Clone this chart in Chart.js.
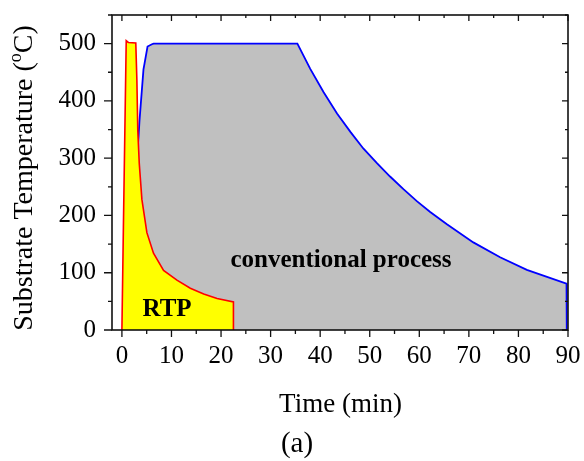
<!DOCTYPE html>
<html>
<head>
<meta charset="utf-8">
<script src="https://cdn.jsdelivr.net/npm/chart.js@4/dist/chart.umd.min.js"></script>
<style>
  html, body { margin: 0; padding: 0; background: #fff; }
  #wrap { width: 584px; height: 461px; }
</style>
</head>
<body>
<div id="wrap"><canvas id="tempChart" width="584" height="461"></canvas></div>
<script>
// values
const rtpTime = [0, 0.3, 0.87, 1.3, 2.8, 3.02, 3.2, 3.5, 4.03, 5.04, 6.37, 8.4, 11.1, 13.8, 16.5, 19.2, 22.5, 22.5];
const rtpTemp = [0, 180, 505, 502, 501, 436, 349, 291, 228, 170, 134, 104, 87, 73, 63, 55, 49, 0];

const convTime = [0.4, 3.35, 3.55, 4.35, 4.56, 5.17, 6.05, 6.4, 35.4, 38.0, 40.7, 43.4, 46.1, 48.7, 51.5, 54.1, 56.8, 59.5, 62.2, 65.5, 70.9, 76.3, 81.7, 89.7, 89.75];
const convTemp = [0, 337, 366, 455, 465, 495, 499, 500, 500, 456, 415, 378, 346, 317, 291, 268, 246, 225, 206, 185, 153, 127, 105, 81, 0];

const xTicks = [0, 10, 20, 30, 40, 50, 60, 70, 80, 90];
const yTicks = [0, 100, 200, 300, 400, 500];
const xMinor = [5, 15, 25, 35, 45, 55, 65, 75, 85];
const yMinor = [50, 150, 250, 350, 450, 550];

const labelConv = { text: 'conventional process', x: 44.2, y: 110 };
const labelRtp = { text: 'RTP', x: 9.1, y: 25 };

const serif = '"Liberation Serif", "Times New Roman", serif';

const toPts = (xs, ys) => xs.map((x, i) => ({ x: x, y: ys[i] }));

// chart.js pads the area for edge labels, drop that so the box sits where the layout says
const noPad = s => { s.paddingTop = 0; s.paddingBottom = 0; s.paddingLeft = 0; s.paddingRight = 0; };

const framePlugin = {
	id: 'frame',
	afterDraw(chart) {
		const ctx = chart.ctx;
		const a = chart.chartArea;
		const sx = chart.scales.x, sy = chart.scales.y;
		ctx.save();
		ctx.strokeStyle = '#111';
		ctx.lineWidth = 1.6;
		ctx.strokeRect(a.left, a.top, a.right - a.left, a.bottom - a.top);

		ctx.lineWidth = 1.3;
		ctx.beginPath();
		xTicks.forEach(v => {
			const px = sx.getPixelForValue(v);
			ctx.moveTo(px, a.bottom); ctx.lineTo(px, a.bottom + 7);
			ctx.moveTo(px, a.top); ctx.lineTo(px, a.top + 6);
		});
		xMinor.forEach(v => {
			const px = sx.getPixelForValue(v);
			ctx.moveTo(px, a.bottom); ctx.lineTo(px, a.bottom + 4);
			ctx.moveTo(px, a.top); ctx.lineTo(px, a.top + 3);
		});
		yTicks.forEach(v => {
			const py = sy.getPixelForValue(v);
			ctx.moveTo(a.left, py); ctx.lineTo(a.left - 8, py);
			ctx.moveTo(a.right, py); ctx.lineTo(a.right - 6, py);
		});
		yMinor.forEach(v => {
			const py = sy.getPixelForValue(v);
			ctx.moveTo(a.left, py); ctx.lineTo(a.left - 4, py);
			ctx.moveTo(a.right, py); ctx.lineTo(a.right - 3, py);
		});
		ctx.stroke();

		// labels inside the plot
		ctx.fillStyle = '#000';
		ctx.textAlign = 'center';
		ctx.textBaseline = 'alphabetic';
		ctx.font = 'bold 25px ' + serif;
		ctx.fillText(labelConv.text, sx.getPixelForValue(labelConv.x), sy.getPixelForValue(labelConv.y));
		ctx.fillText(labelRtp.text, sx.getPixelForValue(labelRtp.x), sy.getPixelForValue(labelRtp.y));

		// axis titles
		ctx.font = '27px ' + serif;
		ctx.fillText('Time (min)', (a.left + a.right) / 2 + 0.5, 412);
		ctx.font = '29px ' + serif;
		ctx.fillText('(a)', 297, 452);

		// rotated y title with superscript o
		ctx.translate(32, 178);
		ctx.rotate(-Math.PI / 2);
		ctx.textAlign = 'left';
		const big = '28px ' + serif, small = '18px ' + serif;
		const p1 = 'Substrate Temperature (', p2 = 'o', p3 = 'C)';
		ctx.font = big;
		const w1 = ctx.measureText(p1).width, w3 = ctx.measureText(p3).width;
		ctx.font = small;
		const w2 = ctx.measureText(p2).width;
		let x0 = -(w1 + w2 + w3) / 2;
		ctx.font = big; ctx.fillText(p1, x0, 0); x0 += w1;
		ctx.font = small; ctx.fillText(p2, x0, -11); x0 += w2;
		ctx.font = big; ctx.fillText(p3, x0, 0);
		ctx.restore();
	}
};

const ctx = document.getElementById('tempChart').getContext('2d');
new Chart(ctx, {
	type: 'line',
	data: {
		datasets: [
			{
				label: 'RTP',
				data: toPts(rtpTime, rtpTemp),
				borderColor: '#ff0000',
				backgroundColor: '#ffff00',
				borderWidth: 1.6,
				fill: 'origin',
				pointRadius: 0,
				tension: 0,
				order: 0
			},
			{
				label: 'conventional process',
				data: toPts(convTime, convTemp),
				borderColor: '#0000ff',
				backgroundColor: '#c0c0c0',
				borderWidth: 1.8,
				fill: 'origin',
				pointRadius: 0,
				tension: 0,
				order: 1
			}
		]
	},
	options: {
		responsive: false,
		animation: false,
		layout: { padding: { top: 15, right: 16, left: 0, bottom: 0 } },
		plugins: {
			legend: { display: false },
			tooltip: { enabled: false }
		},
		scales: {
			x: {
				type: 'linear',
				min: -2,
				max: 90,
				afterBuildTicks: s => { s.ticks = xTicks.map(v => ({ value: v })); },
				afterFit: s => { s.height = 131; noPad(s); },
				grid: { display: false, drawTicks: false },
				border: { display: false },
				ticks: {
					padding: 11,
					color: '#000',
					maxRotation: 0,
					font: { family: serif, size: 25 }
				}
			},
			y: {
				type: 'linear',
				min: 0,
				max: 550,
				afterBuildTicks: s => { s.ticks = yTicks.map(v => ({ value: v })); },
				afterFit: s => { s.width = 112; noPad(s); },
				grid: { display: false, drawTicks: false },
				border: { display: false },
				ticks: {
					padding: 16,
					color: '#000',
					font: { family: serif, size: 25 }
				}
			}
		}
	},
	plugins: [framePlugin]
});
</script>
</body>
</html>
